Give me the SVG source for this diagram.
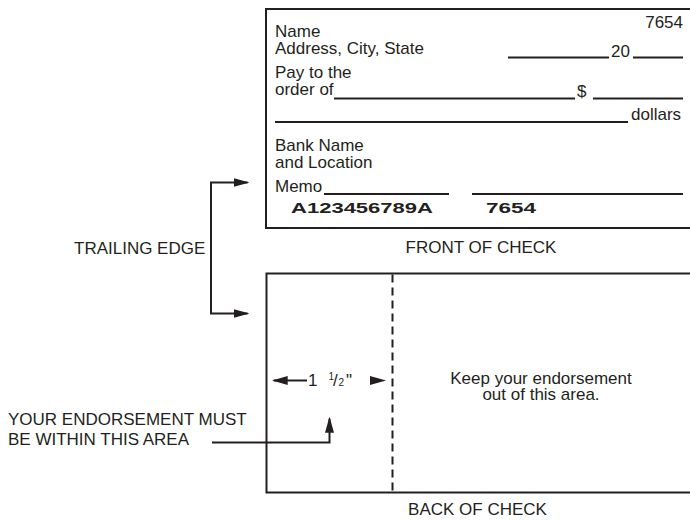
<svg xmlns="http://www.w3.org/2000/svg" width="690" height="521" viewBox="0 0 690 521">
<style>
text{font-family:"Liberation Sans",Arial,Helvetica,sans-serif;font-size:17px;fill:#231f20}
.b{font-weight:bold;font-size:14.5px}
.sm{font-size:10px}
.box{fill:#fff;stroke:#231f20;stroke-width:2}
.ul{stroke:#231f20;stroke-width:2}
.conn{fill:none;stroke:#231f20;stroke-width:2}
.dash{stroke:#231f20;stroke-width:2;stroke-dasharray:8 5}
.mid{text-anchor:middle}
.end{text-anchor:end}
.ah{fill:#231f20}
</style>
<defs>
<marker id="arr" markerWidth="16" markerHeight="9" refX="14" refY="4.5" orient="auto" markerUnits="userSpaceOnUse"><path d="M0,0 L16,4.5 L0,9 z" fill="#231f20"/></marker>
</defs>
<rect width="690" height="521" fill="#fff"/>
<g id="front-check">
<rect class="box" x="266" y="9" width="440" height="219"/>
<text class="end" x="683" y="28">7654</text>
<text x="275" y="37">Name</text>
<text x="275" y="54">Address, City, State</text>
<line class="ul" x1="508" y1="57.5" x2="609" y2="57.5"/>
<text x="611" y="57">20</text>
<line class="ul" x1="633" y1="57.5" x2="683" y2="57.5"/>
<text x="275" y="78">Pay to the</text>
<text x="275" y="95">order of</text>
<line class="ul" x1="334" y1="98.5" x2="575" y2="98.5"/>
<text x="577" y="97">$</text>
<line class="ul" x1="593" y1="98.5" x2="683" y2="98.5"/>
<line class="ul" x1="275" y1="122" x2="628" y2="122"/>
<text x="631" y="120">dollars</text>
<text x="275" y="151">Bank Name</text>
<text x="275" y="168">and Location</text>
<text x="275" y="192">Memo</text>
<line class="ul" x1="324" y1="194" x2="449" y2="194"/>
<line class="ul" x1="472" y1="194" x2="683" y2="194"/>
<text class="b" x="291" y="212.5" textLength="142" lengthAdjust="spacingAndGlyphs">A123456789A</text>
<text class="b" x="486" y="213" textLength="50" lengthAdjust="spacingAndGlyphs">7654</text>
</g>
<g id="front-label">
<text class="mid" x="481" y="253">FRONT OF CHECK</text>
</g>
<g id="back-check">
<rect class="box" x="266.5" y="273.5" width="440" height="219"/>
<line class="dash" x1="392.5" y1="274.5" x2="392.5" y2="491.5"/>
<text class="mid" x="541" y="384">Keep your endorsement</text>
<text class="mid" x="541" y="400">out of this area.</text>
<text x="308" y="386">1</text>
<text class="sm" x="328.5" y="380">1</text>
<text x="333" y="386">/</text>
<text class="sm" x="338.5" y="386">2</text>
<text x="346" y="386">"</text>
</g>
<g id="back-label">
<text class="mid" x="477.5" y="515">BACK OF CHECK</text>
</g>
<g id="trailing-edge">
<text x="74" y="254">TRAILING EDGE</text>
</g>
<g id="endorsement-label">
<text x="8" y="425">YOUR ENDORSEMENT MUST</text>
<text x="8" y="445">BE WITHIN THIS AREA</text>
</g>
<g id="connectors">
<path class="conn" d="M211,248 V182.5 H247.5" marker-end="url(#arr)"/>
<path class="conn" d="M211,248 V313.5 H247.5" marker-end="url(#arr)"/>
<line class="conn" x1="307" y1="380.5" x2="273.7" y2="380.5" marker-end="url(#arr)"/>
<polygon class="ah" points="370,376 386,380.5 370,385"/>
<path class="conn" d="M212,442.5 H329.5 V418.7" marker-end="url(#arr)"/>
</g>
</svg>
